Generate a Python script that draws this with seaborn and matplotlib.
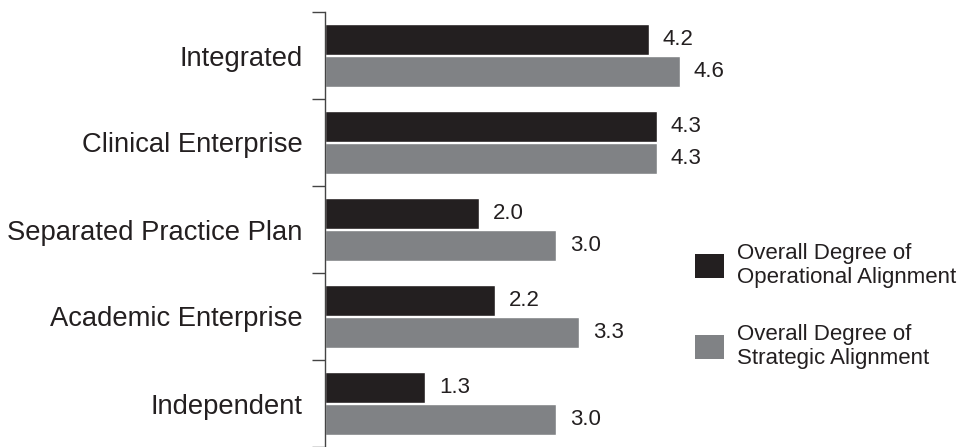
import matplotlib
matplotlib.use("Agg")
import matplotlib.pyplot as plt
import seaborn as sns
import pandas as pd
from matplotlib.patches import Patch

categories = ["Integrated", "Clinical Enterprise", "Separated Practice Plan",
              "Academic Enterprise", "Independent"]
series_names = ["Overall Degree of\nOperational Alignment",
                "Overall Degree of\nStrategic Alignment"]
operational = [4.2, 4.3, 2.0, 2.2, 1.3]
strategic = [4.6, 4.3, 3.0, 3.3, 3.0]

colors = ["#231f20", "#808285"]
text_color = "#231f20"

df = pd.DataFrame({
    "category": categories * 2,
    "series": [series_names[0]] * len(categories) + [series_names[1]] * len(categories),
    "value": operational + strategic,
})

sns.set_theme(style="white")
plt.rcParams["font.family"] = ["Liberation Sans", "DejaVu Sans"]

W, H = 966, 447
fig = plt.figure(figsize=(W / 100, H / 100), dpi=100)
x0, ytop = 325, 12
xlim_max = 8.0
px_per_unit = 77.1
ax = fig.add_axes([x0 / W, 0, xlim_max * px_per_unit / W, (H - ytop) / H])

sns.barplot(data=df, y="category", x="value", hue="series", order=categories,
            hue_order=series_names, palette=colors, orient="h",
            width=0.74, gap=0.05, saturation=1, legend=False, ax=ax)

ax.set_xlim(0, xlim_max)
ax.set_ylim(len(categories) - 0.5, -0.5)
ax.set_xlabel("")
ax.set_ylabel("")
ax.set_xticks([])

for side in ["top", "right", "bottom"]:
    ax.spines[side].set_visible(False)
ax.spines["left"].set_color("#444444")
ax.spines["left"].set_linewidth(1.0)

ax.set_yticks(range(len(categories)))
ax.set_yticklabels(categories, fontsize=19.7, color=text_color)
ax.tick_params(axis="y", which="major", length=0, pad=16)
ax.set_yticks([i - 0.5 for i in range(len(categories) + 1)], minor=True)
ax.tick_params(axis="y", which="minor", length=9.4, width=1.0, color="#444444",
               left=True)

for cont in ax.containers:
    ax.bar_label(cont, fmt="%.1f", padding=10, fontsize=16, color=text_color)

handles = [Patch(facecolor=c, edgecolor="none") for c in colors]
fs = 16
leg = ax.legend(handles, series_names, loc="upper left",
                bbox_to_anchor=(695 / W, 1 - 243 / H), bbox_transform=fig.transFigure,
                frameon=False, fontsize=fs, handlelength=1.3, handleheight=1.3,
                handletextpad=0.6, labelspacing=1.64, borderpad=0, borderaxespad=0)
for t in leg.get_texts():
    t.set_color(text_color)
    t.set_linespacing(1.18)

fig.savefig("out.png", dpi=100)
